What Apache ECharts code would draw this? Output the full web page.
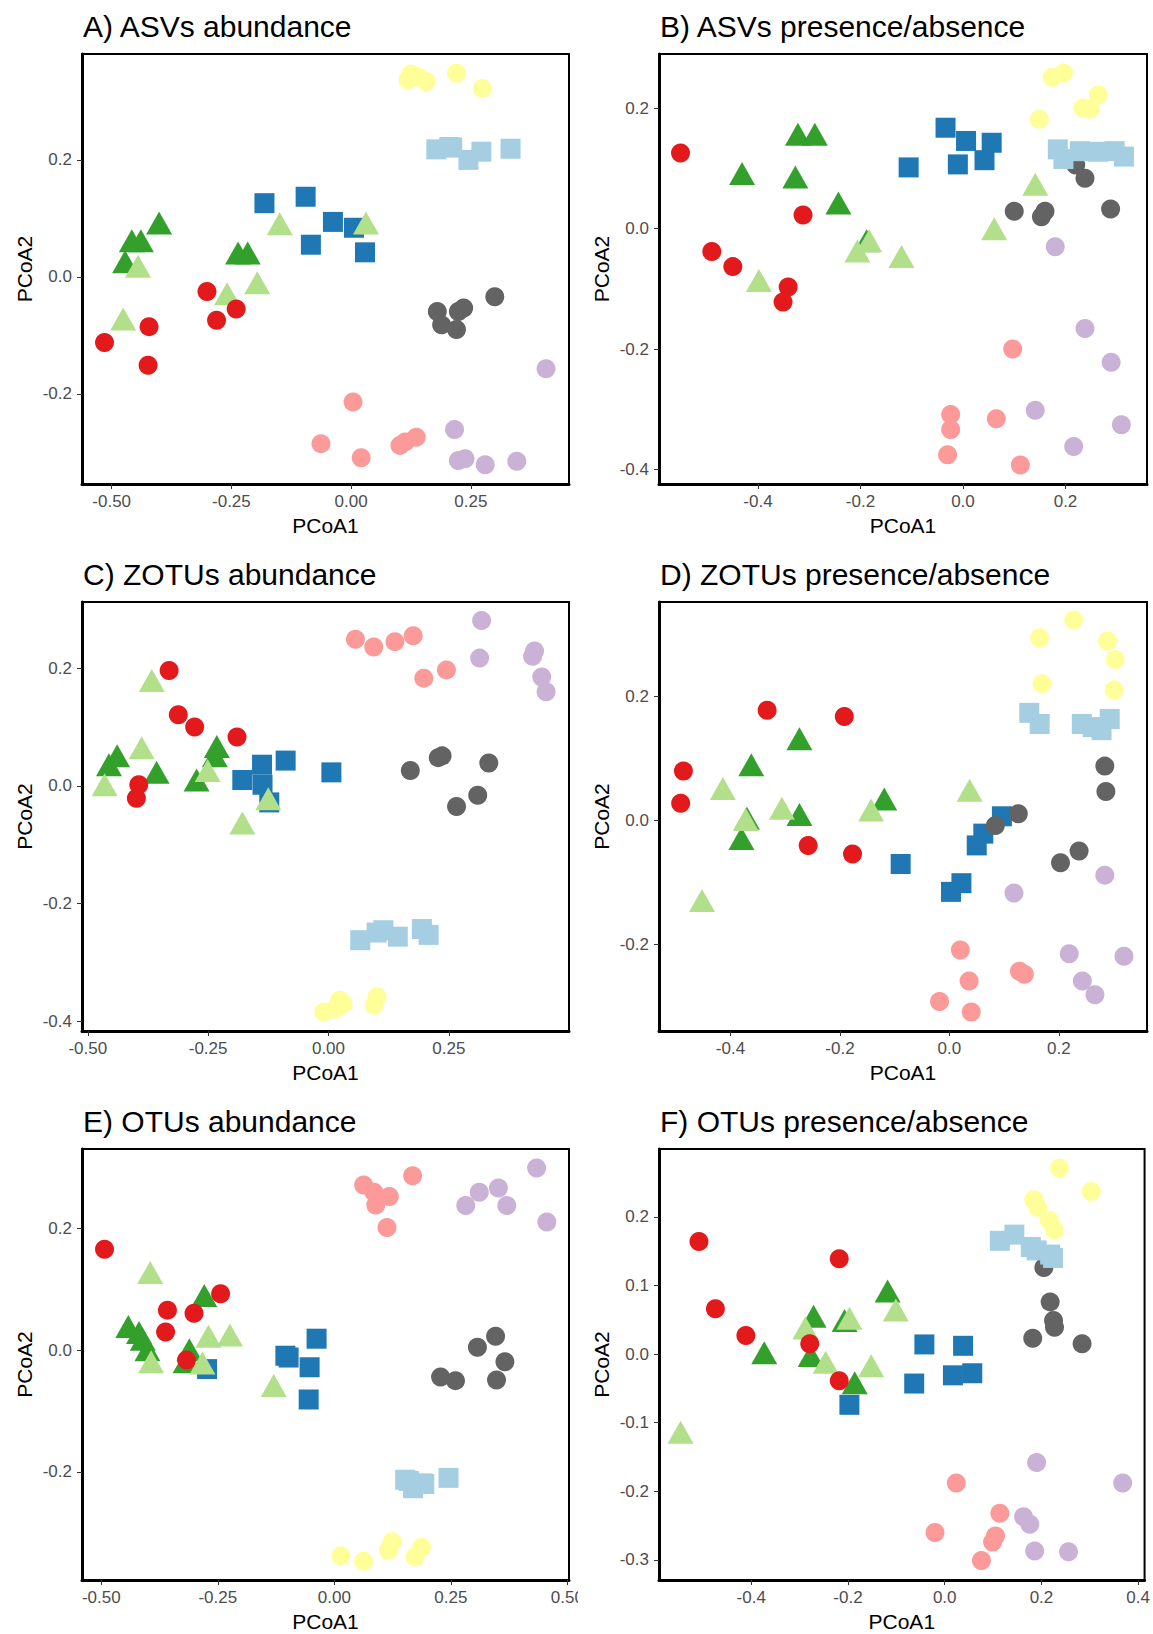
<!DOCTYPE html>
<html>
<head>
<meta charset="utf-8">
<script src="https://cdn.jsdelivr.net/npm/echarts@6/dist/echarts.min.js"></script>
<style>
html,body{margin:0;padding:0;background:#fff;}
#chart{width:1153px;height:1634px;}
</style>
</head>
<body>
<div id="chart"></div>
<script>
// ---------- Panel titles ----------
const panelTitles = ["A) ASVs abundance","B) ASVs presence/absence","C) ZOTUs abundance","D) ZOTUs presence/absence","E) OTUs abundance","F) OTUs presence/absence"];

// ---------- Axis ranges and ticks ----------
const A_xRange=[-0.562,0.455], A_yRange=[-0.354,0.381];
const B_xRange=[-0.593,0.359], B_yRange=[-0.4245,0.2906];
const C_xRange=[-0.512,0.4996], C_yRange=[-0.4162,0.3123];
const D_xRange=[-0.5306,0.3611], D_yRange=[-0.3396,0.3529];
const E_xRange=[-0.5413,0.5035], E_yRange=[-0.378,0.3311];
const F_xRange=[-0.5906,0.4132], F_yRange=[-0.3293,0.2988];

const A_xTicks=[-0.5,-0.25,0,0.25], A_yTicks=[-0.2,0,0.2];
const B_xTicks=[-0.4,-0.2,0,0.2], B_yTicks=[-0.4,-0.2,0,0.2];
const C_xTicks=[-0.5,-0.25,0,0.25], C_yTicks=[-0.4,-0.2,0,0.2];
const D_xTicks=[-0.4,-0.2,0,0.2], D_yTicks=[-0.2,0,0.2];
const E_xTicks=[-0.5,-0.25,0,0.25,0.5], E_yTicks=[-0.2,0,0.2];
const F_xTicks=[-0.4,-0.2,0,0.2,0.4], F_yTicks=[-0.3,-0.2,-0.1,0,0.1,0.2];

// ---------- Panel A: ASVs abundance ----------
const A_red=[[-0.301,-0.025],[-0.281,-0.074],[-0.240,-0.055],[-0.422,-0.085],[-0.515,-0.112],[-0.424,-0.151]];
const A_dgreen=[[-0.401,0.092],[-0.458,0.062],[-0.439,0.062],[-0.472,0.026],[-0.236,0.041],[-0.216,0.041]];
const A_lgreen=[[-0.445,0.018],[-0.476,-0.072],[-0.259,-0.029],[-0.196,-0.010],[-0.149,0.091],[0.031,0.092]];
const A_dblue=[[-0.181,0.126],[-0.095,0.137],[-0.038,0.094],[0.006,0.084],[-0.084,0.055],[0.029,0.042]];
const A_lblue=[[0.178,0.218],[0.205,0.222],[0.211,0.221],[0.245,0.200],[0.272,0.214],[0.333,0.219]];
const A_yellow=[[0.119,0.337],[0.125,0.347],[0.140,0.342],[0.157,0.334],[0.220,0.348],[0.274,0.322]];
const A_gray=[[0.180,-0.059],[0.189,-0.082],[0.220,-0.090],[0.224,-0.059],[0.235,-0.053],[0.300,-0.034]];
const A_pink=[[0.004,-0.214],[-0.063,-0.285],[0.021,-0.309],[0.102,-0.288],[0.113,-0.282],[0.136,-0.274]];
const A_lav=[[0.407,-0.157],[0.216,-0.261],[0.224,-0.314],[0.238,-0.311],[0.280,-0.321],[0.346,-0.315]];

// ---------- Panel B: ASVs presence/absence ----------
const B_red=[[-0.551,0.126],[-0.312,0.023],[-0.490,-0.038],[-0.449,-0.063],[-0.341,-0.097],[-0.351,-0.122]];
const B_dgreen=[[-0.322,0.157],[-0.289,0.157],[-0.431,0.092],[-0.327,0.086],[-0.243,0.043],[-0.188,-0.020]];
const B_lgreen=[[0.141,0.074],[0.061,0.000],[-0.183,-0.020],[-0.206,-0.037],[-0.120,-0.046],[-0.398,-0.086]];
const B_dblue=[[-0.034,0.168],[0.006,0.146],[0.056,0.143],[-0.106,0.102],[-0.010,0.107],[0.042,0.114]];
const B_lblue=[[0.185,0.132],[0.196,0.116],[0.228,0.129],[0.264,0.128],[0.296,0.129],[0.314,0.120]];
const B_yellow=[[0.174,0.252],[0.196,0.259],[0.264,0.223],[0.234,0.201],[0.248,0.199],[0.149,0.182]];
const B_gray=[[0.220,0.106],[0.238,0.084],[0.100,0.029],[0.153,0.020],[0.160,0.029],[0.288,0.033]];
const B_pink=[[0.097,-0.200],[-0.024,-0.309],[-0.024,-0.334],[0.065,-0.316],[-0.030,-0.376],[0.112,-0.393]];
const B_lav=[[0.180,-0.030],[0.238,-0.166],[0.289,-0.222],[0.141,-0.302],[0.309,-0.326],[0.216,-0.362]];

// ---------- Panel C: ZOTUs abundance ----------
const C_red=[[-0.331,0.196],[-0.312,0.121],[-0.278,0.100],[-0.190,0.083],[-0.394,0.002],[-0.399,-0.021]];
const C_dgreen=[[-0.439,0.051],[-0.456,0.036],[-0.357,0.023],[-0.232,0.067],[-0.236,0.051],[-0.274,0.010]];
const C_lgreen=[[-0.367,0.179],[-0.388,0.065],[-0.465,0.002],[-0.251,0.026],[-0.125,-0.022],[-0.179,-0.063]];
const C_dblue=[[-0.089,0.043],[-0.138,0.036],[-0.179,0.010],[-0.137,0.002],[-0.123,-0.028],[0.006,0.023]];
const C_lblue=[[0.066,-0.262],[0.100,-0.249],[0.114,-0.245],[0.144,-0.256],[0.194,-0.243],[0.208,-0.253]];
const C_yellow=[[-0.010,-0.384],[0.015,-0.378],[0.023,-0.364],[0.030,-0.370],[0.101,-0.358],[0.095,-0.372]];
const C_gray=[[0.170,0.026],[0.228,0.048],[0.236,0.051],[0.333,0.039],[0.266,-0.035],[0.310,-0.016]];
const C_pink=[[0.056,0.249],[0.094,0.236],[0.138,0.245],[0.176,0.255],[0.245,0.197],[0.198,0.183]];
const C_lav=[[0.318,0.281],[0.314,0.217],[0.428,0.229],[0.424,0.220],[0.443,0.185],[0.452,0.160]];

// ---------- Panel D: ZOTUs presence/absence ----------
const D_red=[[-0.333,0.178],[-0.192,0.168],[-0.486,0.080],[-0.491,0.028],[-0.258,-0.040],[-0.177,-0.054]];
const D_dgreen=[[-0.274,0.132],[-0.362,0.090],[-0.119,0.035],[-0.274,0.010],[-0.370,0.004],[-0.380,-0.029]];
const D_lgreen=[[-0.414,0.052],[0.037,0.049],[-0.306,0.020],[-0.143,0.017],[-0.372,0.002],[-0.452,-0.129]];
const D_dblue=[[0.096,0.007],[0.062,-0.021],[0.050,-0.040],[-0.089,-0.070],[0.022,-0.101],[0.003,-0.115]];
const D_lblue=[[0.146,0.174],[0.165,0.156],[0.242,0.156],[0.262,0.151],[0.278,0.146],[0.293,0.164]];
const D_yellow=[[0.227,0.324],[0.165,0.295],[0.289,0.290],[0.303,0.260],[0.169,0.221],[0.301,0.211]];
const D_gray=[[0.284,0.088],[0.286,0.047],[0.126,0.011],[0.084,-0.008],[0.237,-0.049],[0.203,-0.068]];
const D_pink=[[0.020,-0.209],[0.128,-0.243],[0.137,-0.248],[0.036,-0.259],[-0.018,-0.292],[0.040,-0.309]];
const D_lav=[[0.284,-0.088],[0.118,-0.117],[0.219,-0.215],[0.319,-0.219],[0.243,-0.259],[0.266,-0.281]];

// ---------- Panel E: OTUs abundance ----------
const E_red=[[-0.493,0.166],[-0.244,0.093],[-0.358,0.066],[-0.301,0.061],[-0.362,0.030],[-0.317,-0.016]];
const E_dgreen=[[-0.279,0.090],[-0.442,0.039],[-0.419,0.029],[-0.411,0.018],[-0.401,0.001],[-0.311,0.001],[-0.319,-0.019]];
const E_lgreen=[[-0.395,0.128],[-0.270,0.023],[-0.224,0.025],[-0.393,-0.019],[-0.283,-0.021],[-0.130,-0.058]];
const E_dblue=[[-0.038,0.019],[-0.105,-0.009],[-0.098,-0.012],[-0.053,-0.028],[-0.055,-0.081],[-0.273,-0.031]];
const E_lblue=[[0.152,-0.213],[0.160,-0.215],[0.169,-0.227],[0.189,-0.219],[0.193,-0.220],[0.245,-0.210]];
const E_yellow=[[0.014,-0.338],[0.063,-0.347],[0.116,-0.329],[0.124,-0.315],[0.173,-0.340],[0.187,-0.324]];
const E_gray=[[0.346,0.023],[0.307,0.005],[0.366,-0.019],[0.228,-0.044],[0.260,-0.050],[0.348,-0.049]];
const E_pink=[[0.168,0.287],[0.063,0.272],[0.085,0.260],[0.118,0.253],[0.089,0.239],[0.113,0.202]];
const E_lav=[[0.434,0.300],[0.352,0.267],[0.311,0.260],[0.282,0.238],[0.370,0.238],[0.456,0.211]];

// ---------- Panel F: OTUs presence/absence ----------
const F_red=[[-0.508,0.164],[-0.218,0.139],[-0.474,0.066],[-0.411,0.027],[-0.279,0.015],[-0.218,-0.039]];
const F_dgreen=[[-0.118,0.092],[-0.271,0.055],[-0.207,0.049],[-0.373,0.002],[-0.277,-0.002],[-0.186,-0.042]];
const F_lgreen=[[-0.101,0.064],[-0.197,0.052],[-0.288,0.038],[-0.246,-0.012],[-0.152,-0.017],[-0.546,-0.114]];
const F_dblue=[[-0.042,0.014],[0.038,0.012],[0.017,-0.031],[0.057,-0.028],[-0.063,-0.043],[-0.197,-0.074]];
const F_lblue=[[0.114,0.165],[0.144,0.174],[0.178,0.156],[0.190,0.151],[0.224,0.140],[0.218,0.145]];
const F_yellow=[[0.237,0.271],[0.303,0.237],[0.184,0.225],[0.192,0.214],[0.216,0.195],[0.227,0.181]];
const F_gray=[[0.205,0.126],[0.218,0.076],[0.225,0.049],[0.227,0.039],[0.182,0.023],[0.284,0.015]];
const F_pink=[[0.024,-0.188],[0.114,-0.232],[-0.020,-0.260],[0.105,-0.265],[0.099,-0.274],[0.076,-0.301]];
const F_lav=[[0.190,-0.158],[0.368,-0.188],[0.163,-0.237],[0.176,-0.248],[0.186,-0.287],[0.256,-0.288]];

// ---------- assembly ----------
const FONT = '"Liberation Sans", Arial, "DejaVu Sans", sans-serif';
const groupStyles = [ // draw order (later = on top)
  {key:'dgreen', color:'#33A02C', symbol:'triangle', size:[26,23]},
  {key:'dblue',  color:'#1F78B4', symbol:'rect',     size:20},
  {key:'lgreen', color:'#B2DF8A', symbol:'triangle', size:[26,23]},
  {key:'red',    color:'#E31A1C', symbol:'circle',   size:19},
  {key:'gray',   color:'#636363', symbol:'circle',   size:19},
  {key:'lblue',  color:'#A6CEE3', symbol:'rect',     size:20},
  {key:'yellow', color:'#FFFF99', symbol:'circle',   size:19},
  {key:'pink',   color:'#FB9A99', symbol:'circle',   size:19},
  {key:'lav',    color:'#CAB2D6', symbol:'circle',   size:19}
];
const panels = [
  {groups:{red:A_red,dgreen:A_dgreen,lgreen:A_lgreen,dblue:A_dblue,lblue:A_lblue,yellow:A_yellow,gray:A_gray,pink:A_pink,lav:A_lav}, xr:A_xRange, yr:A_yRange, xt:A_xTicks, yt:A_yTicks, xd:2},
  {groups:{red:B_red,dgreen:B_dgreen,lgreen:B_lgreen,dblue:B_dblue,lblue:B_lblue,yellow:B_yellow,gray:B_gray,pink:B_pink,lav:B_lav}, xr:B_xRange, yr:B_yRange, xt:B_xTicks, yt:B_yTicks, xd:1},
  {groups:{red:C_red,dgreen:C_dgreen,lgreen:C_lgreen,dblue:C_dblue,lblue:C_lblue,yellow:C_yellow,gray:C_gray,pink:C_pink,lav:C_lav}, xr:C_xRange, yr:C_yRange, xt:C_xTicks, yt:C_yTicks, xd:2},
  {groups:{red:D_red,dgreen:D_dgreen,lgreen:D_lgreen,dblue:D_dblue,lblue:D_lblue,yellow:D_yellow,gray:D_gray,pink:D_pink,lav:D_lav}, xr:D_xRange, yr:D_yRange, xt:D_xTicks, yt:D_yTicks, xd:1},
  {groups:{red:E_red,dgreen:E_dgreen,lgreen:E_lgreen,dblue:E_dblue,lblue:E_lblue,yellow:E_yellow,gray:E_gray,pink:E_pink,lav:E_lav}, xr:E_xRange, yr:E_yRange, xt:E_xTicks, yt:E_yTicks, xd:2},
  {groups:{red:F_red,dgreen:F_dgreen,lgreen:F_lgreen,dblue:F_dblue,lblue:F_lblue,yellow:F_yellow,gray:F_gray,pink:F_pink,lav:F_lav}, xr:F_xRange, yr:F_yRange, xt:F_xTicks, yt:F_yTicks, xd:1}
];
const colLeft=[82,659], colWidth=[487,488], rowTop=[54,602,1149], rowHeight=[430,429,431];

const grids=[], xAxes=[], yAxes=[], series=[], titles=[];
panels.forEach((p,i)=>{
  const c=i%2, r=Math.floor(i/2);
  grids.push({left:colLeft[c], top:rowTop[r], width:colWidth[c], height:rowHeight[r], show:true, borderColor:'#000', borderWidth:2, backgroundColor:'transparent', containLabel:false});
  titles.push({text:panelTitles[i], left:colLeft[c]+1, top:rowTop[r]-43, padding:0, textStyle:{fontSize:30, fontWeight:'normal', color:'#000', fontFamily:FONT}});
  xAxes.push({gridIndex:i, type:'value', min:p.xr[0], max:p.xr[1], name:'PCoA1', nameLocation:'middle', nameGap:31,
    nameTextStyle:{fontSize:21, color:'#000', fontFamily:FONT},
    splitLine:{show:false},
    axisLine:{show:true, onZero:false, lineStyle:{color:'#000', width:3}},
    axisTick:{show:true, length:5, lineStyle:{color:'#333', width:1}, customValues:p.xt},
    axisLabel:{customValues:p.xt, fontSize:17, color:'#4D4D4D', margin:9, fontFamily:FONT, formatter:v=>Number(v).toFixed(p.xd)}});
  yAxes.push({gridIndex:i, type:'value', min:p.yr[0], max:p.yr[1], name:'PCoA2', nameLocation:'middle', nameGap:47,
    nameTextStyle:{fontSize:21, color:'#000', fontFamily:FONT},
    splitLine:{show:false},
    axisLine:{show:true, onZero:false, lineStyle:{color:'#000', width:3}},
    axisTick:{show:true, length:5, lineStyle:{color:'#333', width:1}, customValues:p.yt},
    axisLabel:{customValues:p.yt, fontSize:17, color:'#4D4D4D', margin:10, fontFamily:FONT, formatter:v=>Number(v).toFixed(1)}});
  groupStyles.forEach(g=>{
    series.push({type:'scatter', name:g.key, xAxisIndex:i, yAxisIndex:i, data:p.groups[g.key],
      symbol:g.symbol, symbolSize:g.size, itemStyle:{color:g.color, opacity:1, borderWidth:0},
      emphasis:{disabled:true}, silent:true});
  });
});

const chart = echarts.init(document.getElementById('chart'), null, {renderer:'svg', width:1153, height:1634});
chart.setOption({
  animation:false,
  backgroundColor:'#fff',
  title:titles,
  grid:grids,
  xAxis:xAxes,
  yAxis:yAxes,
  series:series,
  graphic:[{type:'rect', left:578, top:490, shape:{width:18, height:30}, style:{fill:'#fff'}, z:100, silent:true}].map(g=>Object.assign(g,{top:1149+431+6}))
});
</script>
</body>
</html>
